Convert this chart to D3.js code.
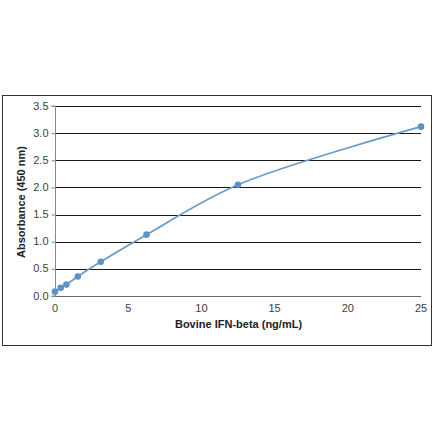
<!DOCTYPE html>
<html><head><meta charset="utf-8">
<script src="https://cdn.jsdelivr.net/npm/d3@7"></script>
<style>body{margin:0;background:#fff;}svg{display:block;}</style>
</head><body>
<script>
const concentrations = [0, 0.39, 0.78, 1.56, 3.125, 6.25, 12.5, 25];
const absorbance = [0.08, 0.15, 0.21, 0.36, 0.63, 1.13, 2.05, 3.12];
const xTicks = [0, 5, 10, 15, 20, 25];
const yTicks = [0, 0.5, 1.0, 1.5, 2.0, 2.5, 3.0, 3.5];
const xTitle = "Bovine IFN-beta (ng/mL)";
const yTitle = "Absorbance (450 nm)";

const W = 440, H = 441;
const svg = d3.select("body").append("svg").attr("width", W).attr("height", H);
svg.append("rect").attr("x",2.5).attr("y",95.5).attr("width",429).attr("height",250)
  .attr("fill","#fff").attr("stroke","#333").attr("stroke-width",1);

const x = d3.scaleLinear().domain([0,25]).range([55,421]);
const y = d3.scaleLinear().domain([0,3.5]).range([296,106]);

// gridlines
svg.append("g").selectAll("line").data(yTicks).join("line")
  .attr("x1",x(0)).attr("x2",x(25))
  .attr("y1",d=>Math.round(y(d))+0.5).attr("y2",d=>Math.round(y(d))+0.5)
  .attr("stroke",d=>d===0?"#666":"#1a1a1a").attr("stroke-width",1.1);

// y axis
const ya = svg.append("g").attr("transform",`translate(${x(0)+0.5},0)`)
  .call(d3.axisLeft(y).tickValues(yTicks).tickFormat(d3.format(".1f")).tickSize(4).tickPadding(3)
    .offset(0));
ya.select(".domain").attr("stroke","#888");
ya.selectAll(".tick line").attr("stroke","#888").attr("transform","translate(0,0.5)");
ya.selectAll("text").attr("font-family","Arial, Liberation Sans, sans-serif").attr("font-size",11).attr("fill","#404040");

// x axis labels
const xa = svg.append("g").attr("transform",`translate(0,${y(0)})`)
  .call(d3.axisBottom(x).tickValues(xTicks).tickSize(0).tickPadding(8).offset(0));
xa.select(".domain").remove();
xa.selectAll("text").attr("font-family","Arial, Liberation Sans, sans-serif").attr("font-size",11).attr("fill","#404040");

// titles
svg.append("text").attr("x",238.5).attr("y",328).attr("text-anchor","middle")
  .attr("font-family","Arial, Liberation Sans, sans-serif").attr("font-size",11).attr("font-weight","bold")
  .attr("fill","#222").text(xTitle);
svg.append("text").attr("transform","translate(25,202) rotate(-90)").attr("text-anchor","middle")
  .attr("font-family","Arial, Liberation Sans, sans-serif").attr("font-size",11).attr("font-weight","bold")
  .attr("fill","#222").text(yTitle);

const data = concentrations.map((c,i)=>({c, a:absorbance[i]}));
const line = d3.line().x(d=>x(d.c)).y(d=>y(d.a)).curve(d3.curveCatmullRom.alpha(0.5));
svg.append("path").datum(data).attr("d",line).attr("fill","none")
  .attr("stroke","#6a9bc6").attr("stroke-width",1.75);
svg.append("g").selectAll("circle").data(data).join("circle")
  .attr("cx",d=>x(d.c)).attr("cy",d=>y(d.a)).attr("r",3.3).attr("fill","#5b93c8");
</script>
</body></html>
